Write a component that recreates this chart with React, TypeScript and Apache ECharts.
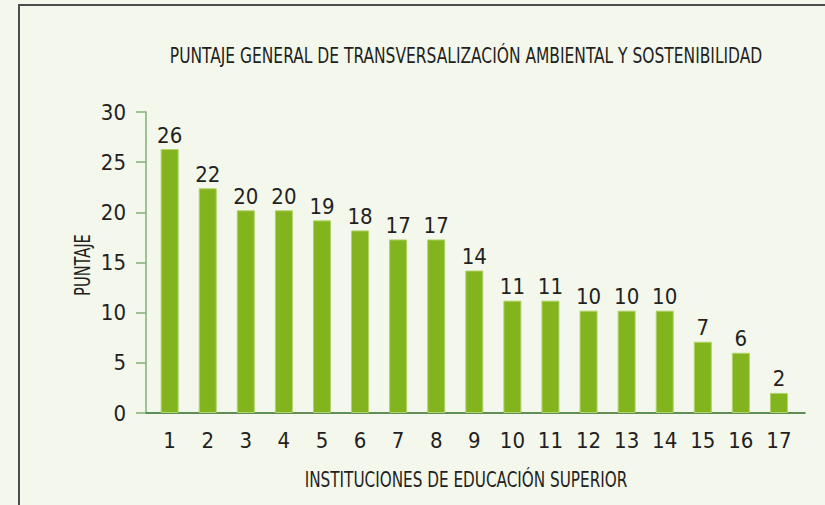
import React, { useEffect, useRef } from "react";
import * as echarts from "echarts";

const chartTitle = "PUNTAJE GENERAL DE TRANSVERSALIZACIÓN AMBIENTAL Y SOSTENIBILIDAD";
const xAxisName = "INSTITUCIONES DE EDUCACIÓN SUPERIOR";
const yAxisName = "PUNTAJE";
const institutions = ["1", "2", "3", "4", "5", "6", "7", "8", "9", "10", "11", "12", "13", "14", "15", "16", "17"];
const scores = [26.3, 22.4, 20.2, 20.2, 19.2, 18.2, 17.3, 17.3, 14.2, 11.2, 11.2, 10.2, 10.2, 10.2, 7.1, 6.0, 2.0];
const yMin = 0;
const yMax = 30;
const yStep = 5;

const FONT = "'Liberation Sans Narrow', 'DejaVu Sans Condensed', 'Noto Sans', sans-serif";
const TEXT = "#231f20";

export default function App() {
  const ref = useRef<HTMLDivElement>(null);
  useEffect(() => {
    if (!ref.current) return;
    const chart = echarts.init(ref.current, undefined, { renderer: "svg" });
    const nameStyle = (text: string, size: number) => ({
      text,
      align: "center",
      verticalAlign: "middle",
      textAlign: "center",
      textVerticalAlign: "middle",
      fontFamily: FONT,
      fontSize: size,
      fill: TEXT,
    });
    chart.setOption({
      animation: false,
      backgroundColor: "#f4f7ec",
      graphic: [
        {
          type: "rect",
          shape: { x: 19, y: 5, width: 1000, height: 1000 },
          style: { fill: "none", stroke: "#4d4d4d", lineWidth: 2 },
          silent: true,
        },
        { type: "text", x: 466, y: 56, scaleX: 0.82, style: nameStyle(chartTitle, 21), silent: true },
        { type: "text", x: 466, y: 480, scaleX: 0.77, style: nameStyle(xAxisName, 22), silent: true },
        { type: "text", x: 83, y: 265, rotation: Math.PI / 2, scaleX: 0.74, style: nameStyle(yAxisName, 22), silent: true },
      ],
      grid: [
        { left: 146, right: 20, top: 112, bottom: 92 },
        { left: 150.6, right: 27, top: 112, bottom: 92 },
      ],
      xAxis: [
        {
          gridIndex: 0,
          type: "value",
          min: 0,
          max: 1,
          axisLine: { show: true, lineStyle: { color: "#2e6b26", width: 1.5 } },
          axisTick: { show: false },
          axisLabel: { show: false },
          splitLine: { show: false },
        },
        {
          gridIndex: 1,
          type: "category",
          data: institutions,
          axisLine: { show: false },
          axisTick: { show: false },
          axisLabel: { margin: 16, fontFamily: FONT, fontSize: 22, color: TEXT },
        },
      ],
      yAxis: [
        {
          gridIndex: 0,
          type: "value",
          min: yMin,
          max: yMax,
          interval: yStep,
          axisLine: { show: true, lineStyle: { color: "#7fb07a", width: 1.5 } },
          axisTick: { show: true, length: 10, lineStyle: { color: "#7fb07a", width: 1.5 } },
          axisLabel: { margin: 20, fontFamily: FONT, fontSize: 22, color: TEXT },
          splitLine: { show: false },
        },
        { gridIndex: 1, type: "value", min: yMin, max: yMax, interval: yStep, show: false },
      ],
      series: [
        {
          type: "bar",
          xAxisIndex: 1,
          yAxisIndex: 1,
          data: scores,
          barWidth: 18,
          itemStyle: { color: "#82b41e", borderColor: "#b2d36a", borderWidth: 1 },
          label: {
            show: true,
            position: "top",
            distance: 3,
            formatter: (p: any) => String(Math.round(p.value)),
            fontFamily: FONT,
            fontSize: 22,
            color: TEXT,
          },
        },
      ],
    });
    return () => chart.dispose();
  }, []);
  return <div ref={ref} style={{ position: "fixed", left: 0, top: 0, width: 825, height: 505 }} />;
}
